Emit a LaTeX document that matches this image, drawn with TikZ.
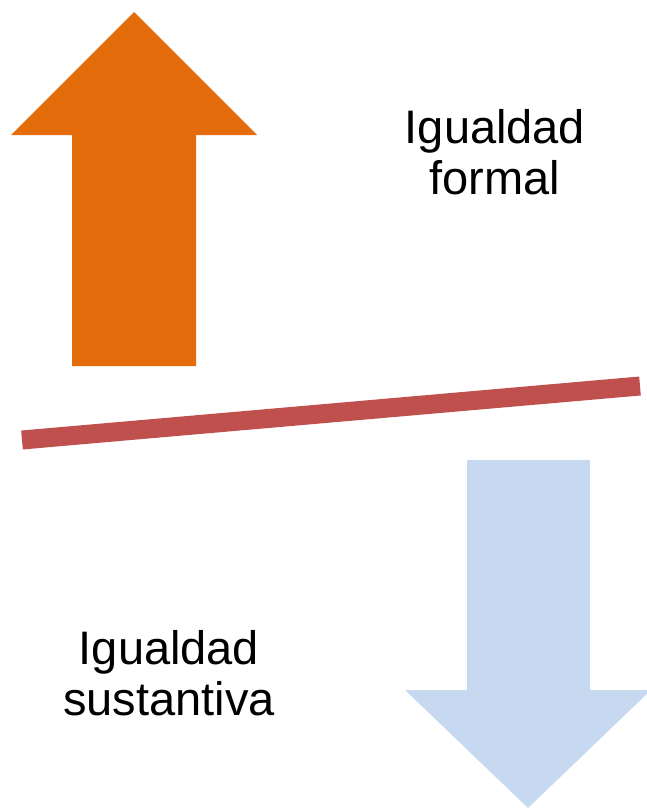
\documentclass[tikz,border=0pt]{standalone}
\usepackage{fontspec}
\setmainfont{Liberation Sans}
\definecolor{arrorange}{HTML}{E46C0A}
\definecolor{arrblue}{HTML}{C6D9F1}
\definecolor{barred}{HTML}{C0504D}
\begin{document}
\begin{tikzpicture}[x=1pt,y=-1pt,
  lbl/.style={anchor=base,inner sep=0pt,font=\fontsize{47}{54}\selectfont}]
\useasboundingbox (0,0) rectangle (647,811);
\begin{scope}
\clip (0,0) rectangle (647,811);
\fill[arrorange] (134,12) -- (257,135) -- (196,135) -- (196,366) -- (72,366) -- (72,135) -- (11,135) -- cycle;
\fill[arrblue] (467,460) -- (590,460) -- (590,690) -- (651,690) -- (528,808) -- (405,690) -- (467,690) -- cycle;
\end{scope}
\coordinate (bl) at (22,440);
\coordinate (br) at (640,386);
\draw[barred,line width=19pt] (bl) -- (br);
\node[lbl] (f1) at (495,143) {Igualdad};
\node[lbl] (f2) at (495,194) {formal};
\node[lbl] (s1) at (169,664) {Igualdad};
\node[lbl] (s2) at (169,715) {sustantiva};
\end{tikzpicture}
\end{document}
